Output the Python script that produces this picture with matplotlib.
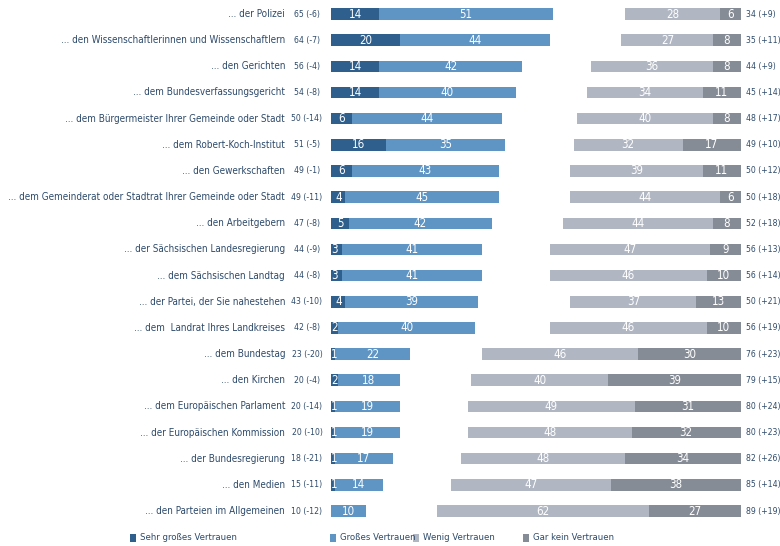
import matplotlib.pyplot as plt

plt.rcParams['font.family'] = ['DejaVu Sans']
plt.rcParams['font.stretch'] = 'condensed'

labels = [
    "... der Polizei",
    "... den Wissenschaftlerinnen und Wissenschaftlern",
    "... den Gerichten",
    "... dem Bundesverfassungsgericht",
    "... dem Bürgermeister Ihrer Gemeinde oder Stadt",
    "... dem Robert-Koch-Institut",
    "... den Gewerkschaften",
    "... dem Gemeinderat oder Stadtrat Ihrer Gemeinde oder Stadt",
    "... den Arbeitgebern",
    "... der Sächsischen Landesregierung",
    "... dem Sächsischen Landtag",
    "... der Partei, der Sie nahestehen",
    "... dem  Landrat Ihres Landkreises",
    "... dem Bundestag",
    "... den Kirchen",
    "... dem Europäischen Parlament",
    "... der Europäischen Kommission",
    "... der Bundesregierung",
    "... den Medien",
    "... den Parteien im Allgemeinen",
]
sehr_gross = [14, 20, 14, 14, 6, 16, 6, 4, 5, 3, 3, 4, 2, 1, 2, 1, 1, 1, 1, 0]
gross = [51, 44, 42, 40, 44, 35, 43, 45, 42, 41, 41, 39, 40, 22, 18, 19, 19, 17, 14, 10]
wenig = [28, 27, 36, 34, 40, 32, 39, 44, 44, 47, 46, 37, 46, 46, 40, 49, 48, 48, 47, 62]
gar_kein = [6, 8, 8, 11, 8, 17, 11, 6, 8, 9, 10, 13, 10, 30, 39, 31, 32, 34, 38, 27]
left_total = ["65 (-6)", "64 (-7)", "56 (-4)", "54 (-8)", "50 (-14)", "51 (-5)", "49 (-1)",
              "49 (-11)", "47 (-8)", "44 (-9)", "44 (-8)", "43 (-10)", "42 (-8)", "23 (-20)",
              "20 (-4)", "20 (-14)", "20 (-10)", "18 (-21)", "15 (-11)", "10 (-12)"]
right_total = ["34 (+9)", "35 (+11)", "44 (+9)", "45 (+14)", "48 (+17)", "49 (+10)", "50 (+12)",
               "50 (+18)", "52 (+18)", "56 (+13)", "56 (+14)", "50 (+21)", "56 (+19)", "76 (+23)",
               "79 (+15)", "80 (+24)", "80 (+23)", "82 (+26)", "85 (+14)", "89 (+19)"]

C_SEHR = "#2f5f8c"
C_GROSS = "#5e95c5"
C_WENIG = "#b1b7c2"
C_GAR = "#868c95"
TXT = "#2d4a6b"

PX = 3.41          # pixels per percent
X0 = 331.5         # pixel where left bars start
RIGHT_END = 120    # data x where right bars end

fig = plt.figure(figsize=(7.8, 5.46), dpi=100)
ax = fig.add_axes([0, 0, 1, 1])
ax.set_xlim(-X0 / PX, (780 - X0) / PX)
ax.set_ylim((546 - 14) / 26.16, -14 / 26.16)
ax.axis("off")

h = 0.44
fs = 6.8
for i, lab in enumerate(labels):
    s, g, w, k = sehr_gross[i], gross[i], wenig[i], gar_kein[i]
    ax.barh(i, s, left=0, height=h, color=C_SEHR)
    ax.barh(i, g, left=s, height=h, color=C_GROSS)
    ax.barh(i, k, left=RIGHT_END - k, height=h, color=C_GAR)
    ax.barh(i, w, left=RIGHT_END - k - w, height=h, color=C_WENIG)
    if s > 0:
        ax.text(s / 2 if s > 3 else 0.9, i, str(s), color="white", ha="center",
                va="center", fontsize=fs + 1.5)
    ax.text(s + g / 2, i, str(g), color="white", ha="center", va="center", fontsize=fs + 1.5)
    ax.text(RIGHT_END - k - w / 2, i, str(w), color="white", ha="center", va="center", fontsize=fs + 1.5)
    ax.text(RIGHT_END - k / 2, i, str(k), color="white", ha="center", va="center", fontsize=fs + 1.5)
    ax.text(-13.6, i, lab, color=TXT, ha="right", va="center", fontsize=fs + 0.3)
    ax.text(-7.2, i, left_total[i], color=TXT, ha="center", va="center", fontsize=fs - 0.6)
    ax.text(121.6, i, right_total[i], color=TXT, ha="left", va="center", fontsize=fs - 0.6)

legend = [("Sehr großes Vertrauen", C_SEHR, 130), ("Großes Vertrauen", C_GROSS, 330),
          ("Wenig Vertrauen", C_WENIG, 413), ("Gar kein Vertrauen", C_GAR, 523)]
ly = (538 - 14) / 26.16
for name, col, px in legend:
    x = (px - X0) / PX
    ax.barh(ly, 1.7, left=x, height=0.28, color=col)
    ax.text(x + 2.8, ly, name, color=TXT, ha="left", va="center", fontsize=fs)

fig.savefig("out.png", dpi=100)
